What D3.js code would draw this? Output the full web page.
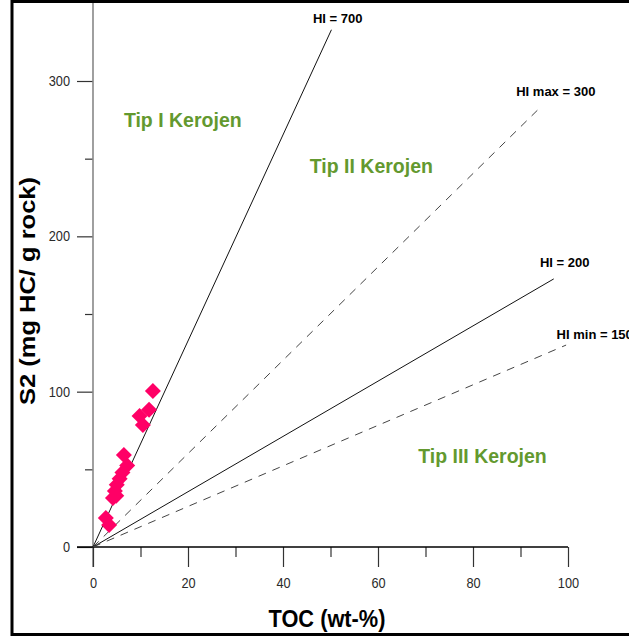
<!DOCTYPE html>
<html>
<head>
<meta charset="utf-8">
<script src="https://cdn.jsdelivr.net/npm/d3@7"></script>
<style>
  html, body { margin: 0; padding: 0; background: #fff; }
  svg { display: block; font-family: "Liberation Sans", Arial, sans-serif; }
</style>
</head>
<body>
<svg id="chart" width="629" height="641"></svg>
<script>
// Sample measurements: TOC (wt-%) and S2 (mg HC / g rock)
const sampleTOC = [12.6, 9.8, 11.8, 10.5, 6.5, 7.2, 6.2, 5.6, 5.0, 4.6, 4.9, 4.2, 2.7, 3.4];
const sampleS2  = [100.5, 84.3, 88.3, 78.6, 59.2, 52.5, 48.0, 44.0, 40.0, 36.0, 33.0, 31.5, 18.7, 14.2];

// Hydrogen-index reference lines (drawn from the origin to their end point)
const hiLabels = ["HI = 700", "HI max = 300", "HI = 200", "HI min = 150"];
const hiEndTOC = [50.2, 94.5, 97.0, 99.6];
const hiEndS2  = [333, 284, 172.6, 130];
const hiDashed = [false, true, false, true];
// where each HI label sits (TOC, S2 of its left baseline)
const hiLabelTOC = [46.3, 89.1, 94.1, 97.6];
const hiLabelS2  = [337.6, 290.4, 180.3, 133.9];

// Kerogen type zones
const zoneLabels = ["Tip I Kerojen", "Tip II Kerojen", "Tip III Kerojen"];
const zoneTOC = [18.9, 58.6, 82.0];
const zoneS2  = [270.4, 240.8, 54.0];

// Axis ticks
const xMajorTicks = [0, 20, 40, 60, 80, 100];
const xMinorTicks = [10, 30, 50, 70, 90];
const yMajorTicks = [0, 100, 200, 300];
const yMinorTicks = [50, 150, 250];

const svg = d3.select("#chart");
const x = d3.scaleLinear().domain([0, 100]).range([93, 568]);
const y = d3.scaleLinear().domain([0, 300]).range([547, 81]);

// outer frame
svg.append("rect")
  .attr("x", 12).attr("y", 1.5).attr("width", 660).attr("height", 633)
  .attr("fill", "none").attr("stroke", "#000").attr("stroke-width", 3);

// tall, slightly narrow tick numbers
function styleTickText(sel) {
  sel.selectAll(".tick text")
    .attr("font-size", 14.5).attr("fill", "#2a2a2a")
    .attr("font-family", "Liberation Sans, Arial, sans-serif")
    .attr("textLength", function () { return this.textContent.length * 7.1; })
    .attr("lengthAdjust", "spacingAndGlyphs");
}

// y axis
const yAxisG = svg.append("g").attr("transform", `translate(${x(0)},0)`);
yAxisG.call(d3.axisLeft(y).tickValues(yMajorTicks).tickSize(16).tickPadding(7))
  .call(g => g.select(".domain").remove());
yAxisG.append("g").call(d3.axisLeft(y).tickValues(yMinorTicks).tickSize(8).tickFormat(""))
  .call(g => g.select(".domain").remove());
yAxisG.selectAll(".tick line").attr("stroke", "#333").attr("stroke-width", 1.2);
styleTickText(yAxisG);
svg.append("line")
  .attr("x1", x(0)).attr("x2", x(0)).attr("y1", 3).attr("y2", 567)
  .attr("stroke", "#888").attr("stroke-width", 1.6);

// x axis
const xAxisG = svg.append("g").attr("transform", `translate(0,${y(0)})`);
xAxisG.call(d3.axisBottom(x).tickValues(xMajorTicks).tickSize(20).tickPadding(11))
  .call(g => g.select(".domain").remove());
xAxisG.append("g").call(d3.axisBottom(x).tickValues(xMinorTicks).tickSize(10).tickFormat(""))
  .call(g => g.select(".domain").remove());
xAxisG.selectAll(".tick line").attr("stroke", "#333").attr("stroke-width", 1.2);
styleTickText(xAxisG);
svg.append("line")
  .attr("x1", 77).attr("x2", x(100)).attr("y1", y(0)).attr("y2", y(0))
  .attr("stroke", "#000").attr("stroke-width", 1.5);

// axis titles
svg.append("text")
  .attr("x", 327).attr("y", 627)
  .attr("text-anchor", "middle")
  .attr("font-size", 23).attr("font-weight", "bold")
  .attr("textLength", 117).attr("lengthAdjust", "spacingAndGlyphs")
  .text("TOC (wt-%)");
svg.append("text")
  .attr("transform", "translate(35,291) rotate(-90)")
  .attr("text-anchor", "middle")
  .attr("font-size", 22).attr("font-weight", "bold")
  .attr("textLength", 228).attr("lengthAdjust", "spacingAndGlyphs")
  .text("S2 (mg HC/ g rock)");

// HI lines
const hiData = hiLabels.map((label, i) => ({
  label, toc: hiEndTOC[i], s2: hiEndS2[i], dashed: hiDashed[i],
  lt: hiLabelTOC[i], ls: hiLabelS2[i]
}));
svg.append("g").selectAll("line").data(hiData).join("line")
  .attr("x1", x(0)).attr("y1", y(0))
  .attr("x2", d => x(d.toc)).attr("y2", d => y(d.s2))
  .attr("stroke", d => d.dashed ? "#444" : "#111")
  .attr("stroke-width", 1)
  .attr("stroke-dasharray", d => d.dashed ? "8,7" : null);

svg.append("g").selectAll("text").data(hiData).join("text")
  .attr("x", d => x(d.lt))
  .attr("y", d => y(d.ls))
  .attr("font-size", 13).attr("font-weight", "bold")
  .attr("fill", "#000")
  .text(d => d.label);

// zone labels
svg.append("g").selectAll("text").data(zoneLabels).join("text")
  .attr("x", (d, i) => x(zoneTOC[i]))
  .attr("y", (d, i) => y(zoneS2[i]))
  .attr("text-anchor", "middle")
  .attr("font-size", 19.5).attr("font-weight", "bold")
  .attr("fill", "#63992f")
  .text(d => d);

// samples as diamonds
const diamond = d3.symbol().type(d3.symbolSquare).size(128);
svg.append("g").selectAll("path").data(sampleTOC.map((t, i) => [t, sampleS2[i]])).join("path")
  .attr("d", diamond)
  .attr("transform", d => `translate(${x(d[0])},${y(d[1])}) rotate(45)`)
  .attr("fill", "#ff0066");
</script>
</body>
</html>
